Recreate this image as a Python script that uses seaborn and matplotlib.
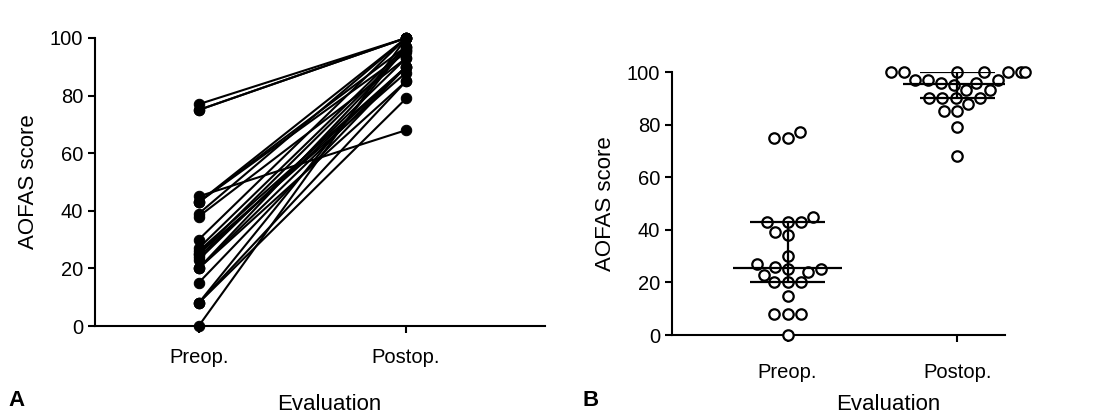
import numpy as np
import pandas as pd
import matplotlib
matplotlib.use("Agg")
import matplotlib.pyplot as plt
import seaborn as sns

# --------------------------------------------------
# Data
# --------------------------------------------------
groups = ["Preop.", "Postop."]
preop = [77, 75, 75, 45, 43, 43, 43, 39, 38, 30, 27, 26,
         25, 25, 24, 23, 20, 20, 20, 15, 8, 8, 8, 0]
postop = [100, 100, 100, 68, 100, 97, 95, 100, 93, 100, 97, 90,
          88, 96, 90, 93, 90, 85, 96, 90, 85, 79, 97, 100]
y_ticks = [0, 20, 40, 60, 80, 100]

n = len(preop)
df = pd.DataFrame({
    "patient": list(range(n)) * 2,
    "Evaluation": [groups[0]] * n + [groups[1]] * n,
    "score": preop + postop,
})

sns.set_style("ticks")
plt.rcParams["font.family"] = ["Liberation Sans", "DejaVu Sans"]
plt.rcParams["text.color"] = "black"
plt.rcParams["axes.labelcolor"] = "black"
plt.rcParams["axes.edgecolor"] = "black"
plt.rcParams["xtick.color"] = "black"
plt.rcParams["ytick.color"] = "black"
plt.rcParams["axes.linewidth"] = 1.5
plt.rcParams["xtick.major.width"] = 1.5
plt.rcParams["ytick.major.width"] = 1.5
plt.rcParams["xtick.major.size"] = 5
plt.rcParams["ytick.major.size"] = 5

fig = plt.figure(figsize=(10.99, 4.16), dpi=100)
ax_a = fig.add_axes([0.0864, 0.2163, 0.4096, 0.6924])
ax_b = fig.add_axes([0.6115, 0.1947, 0.3030, 0.6322])

# --------------------------------------------------
# Panel A: paired scores
# --------------------------------------------------
sns.lineplot(data=df, x="Evaluation", y="score", units="patient",
             estimator=None, sort=False, color="black", lw=1.5,
             marker="o", markersize=7.5, markeredgecolor="black",
             ax=ax_a, clip_on=False)
ax_a.set_xlim(-0.5, 1.67)

# --------------------------------------------------
# Panel B: scatter dot plot with median and IQR
# --------------------------------------------------
sns.swarmplot(data=df, x="Evaluation", y="score", order=groups,
              color="white", edgecolor="black", linewidth=1.6, size=7.5,
              ax=ax_b, clip_on=False, zorder=3)

for i, vals in enumerate([preop, postop]):
    q1, med, q3 = np.percentile(vals, [25, 50, 75], method="weibull")
    ax_b.hlines(med, i - 0.32, i + 0.32, color="black", lw=1.6, zorder=4)
    ax_b.hlines([q1, q3], i - 0.22, i + 0.22, color="black", lw=1.6, zorder=4)
    ax_b.vlines(i, q1, q3, color="black", lw=1.6, zorder=4)

ax_b.set_xlim(-0.68, 1.28)

for ax in (ax_a, ax_b):
    ax.set_ylim(0, 100)
    ax.set_yticks(y_ticks)
    ax.tick_params(labelsize=14.5)
    ax.set_ylabel("AOFAS score", fontsize=16, labelpad=8)
    ax.set_xlabel("Evaluation", fontsize=16)
    sns.despine(ax=ax)

ax_a.tick_params(axis="x", pad=11)
ax_b.tick_params(axis="x", pad=15)
ax_a.xaxis.set_label_coords(0.52, -0.235)
ax_b.xaxis.set_label_coords(0.65, -0.225)

fig.text(0.008, 0.025, "A", fontsize=16, fontweight="bold")
fig.text(0.530, 0.025, "B", fontsize=16, fontweight="bold")

plt.savefig("out.png", dpi=100)
plt.close()
